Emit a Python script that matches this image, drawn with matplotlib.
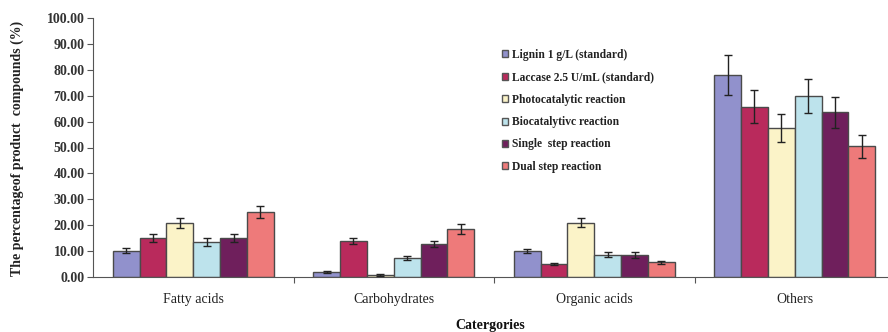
import matplotlib
matplotlib.use("Agg")
import matplotlib.pyplot as plt
import numpy as np

categories = ["Fatty acids", "Carbohydrates", "Organic acids", "Others"]
series_names = ["Lignin 1 g/L (standard)", "Laccase 2.5 U/mL (standard)",
                "Photocatalytic reaction", "Biocatalytivc reaction",
                "Single  step reaction", "Dual step reaction"]
lignin = [10.2, 2.0, 10.2, 78.0]
laccase = [15.0, 14.0, 4.9, 65.8]
photo = [20.8, 0.8, 21.0, 57.5]
bio = [13.5, 7.5, 8.6, 70.0]
single = [15.0, 12.6, 8.5, 63.6]
dual = [25.2, 18.5, 5.7, 50.5]
lignin_err = [1.0, 0.3, 0.8, 7.7]
laccase_err = [1.5, 1.2, 0.4, 6.3]
photo_err = [2.0, 0.3, 1.8, 5.3]
bio_err = [1.5, 0.8, 1.0, 6.5]
single_err = [1.5, 1.2, 1.0, 6.0]
dual_err = [2.3, 1.8, 0.5, 4.5]
yticks = [0, 10, 20, 30, 40, 50, 60, 70, 80, 90, 100]

values = [lignin, laccase, photo, bio, single, dual]
errors = [lignin_err, laccase_err, photo_err, bio_err, single_err, dual_err]
colors = ["#9191cc", "#b92a5c", "#fbf3c8", "#bde3ec", "#6f1f5c", "#ee7a7a"]

plt.rcParams['font.family'] = ['Liberation Serif', 'DejaVu Serif']

fig = plt.figure(figsize=(8.88, 3.32), dpi=100)
ax = fig.add_axes([93/888, 55/332, 802/888, 259/332])

x = np.arange(len(categories))
bw = 0.134
for i, (vals, errs, c, name) in enumerate(zip(values, errors, colors, series_names)):
    pos = x + (i - 2.5) * bw
    ax.bar(pos, vals, bw, color=c, edgecolor="#4a4a4a", linewidth=1.0, label=name, zorder=2)
    ax.errorbar(pos, vals, yerr=errs, fmt="none", ecolor="#222222", elinewidth=1.0,
                capsize=3, capthick=1.0, zorder=3)

ax.set_xlim(-0.5, 3.5)
ax.set_ylim(0, 100)
ax.set_yticks(yticks)
ax.set_yticklabels([f"{t:.2f}" for t in yticks], fontsize=10, fontweight="bold", color="#333333")
ax.set_xticks([0.5, 1.5, 2.5], minor=False)
ax.set_xticklabels([])
ax.tick_params(axis="x", length=4, direction="out", color="#555555")
ax.tick_params(axis="y", length=4, direction="out", color="#555555", pad=2)
for i, cat in enumerate(categories):
    ax.text(i, -6.0, cat, ha="center", va="top", fontsize=10, color="#222222",
            transform=ax.transData)
ax.spines["top"].set_visible(False)
ax.spines["right"].set_visible(False)
ax.spines["left"].set_color("#555555")
ax.spines["bottom"].set_color("#555555")

fig.text(490/888, 1 - 325/332, "Catergories", ha="center", va="center",
         fontsize=10, fontweight="bold", color="#111111")
fig.text(17/888, 1 - 148/332, "The percentageof product  compounds (%)", rotation=90,
         ha="center", va="center", fontsize=10, fontweight="bold", color="#222222")

leg = ax.legend(loc="upper left", bbox_to_anchor=(502/888, 1 - 49/332),
                bbox_transform=fig.transFigure, frameon=False, fontsize=8.3,
                handlelength=0.55, handleheight=0.55, handletextpad=0.35,
                labelspacing=0.9, borderaxespad=0, borderpad=0)
for t in leg.get_texts():
    t.set_fontweight("bold")
    t.set_color("#222222")
for h in leg.legend_handles:
    h.set_edgecolor("#555555")
    h.set_linewidth(1.0)

fig.savefig("out.png", dpi=100)
